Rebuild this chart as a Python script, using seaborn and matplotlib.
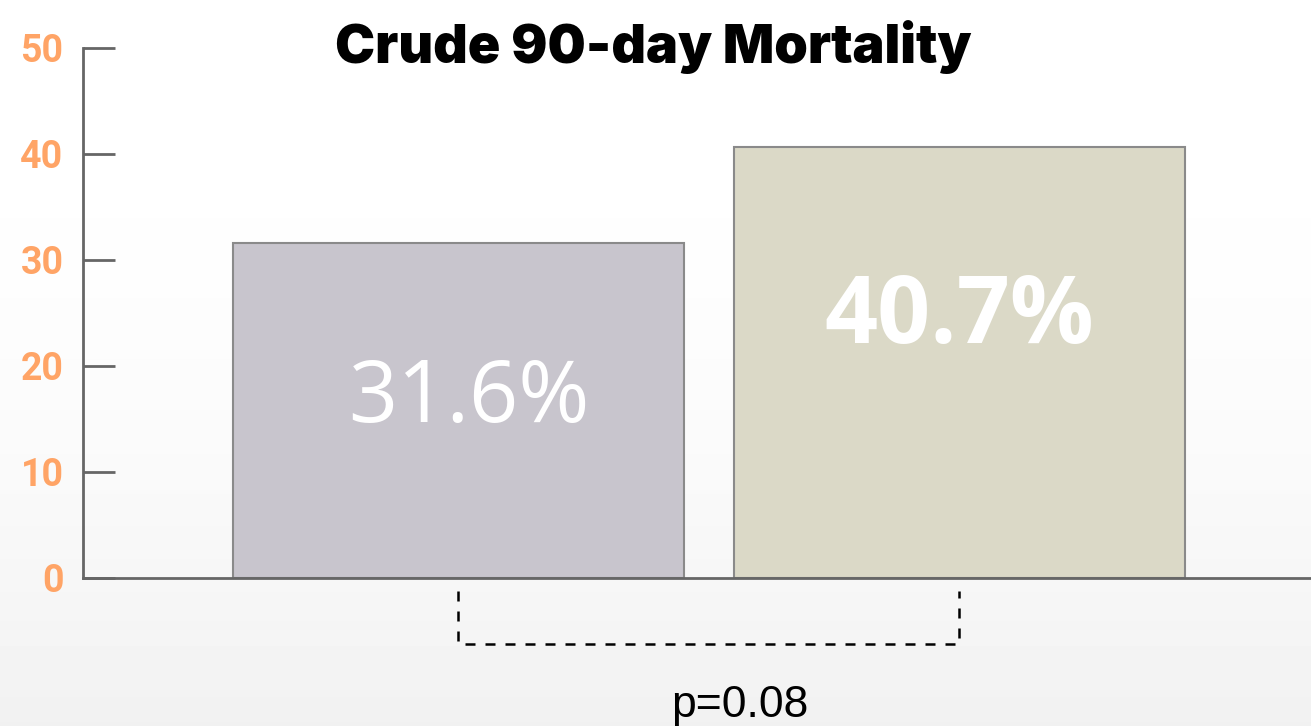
import numpy as np
import pandas as pd
import matplotlib
matplotlib.use('Agg')
import matplotlib.pyplot as plt
import seaborn as sns

# values
groups = ['Group A', 'Group B']
mortality = [31.6, 40.7]
bar_labels = ['31.6%', '40.7%']
bar_colors = ['#C8C3CF', '#DEDCC4']
y_ticks = [0, 10, 20, 30, 40, 50]
p_text = 'p=0.08'

df = pd.DataFrame({'group': groups, 'mortality': mortality})

sns.set_style('white')
plt.rcParams['font.family'] = ['Open Sans', 'DejaVu Sans']

fig = plt.figure(figsize=(13.11, 7.26), dpi=100)
fig.patch.set_facecolor('#FFFFFF')

# soft grey gradient towards the bottom of the slide
bg = fig.add_axes([0, 0, 1, 1], zorder=-1)
t = np.linspace(0, 1, 200)
grad = (1.0 - 0.055 * t ** 2.2).reshape(-1, 1)
bg.imshow(np.repeat(grad, 2, axis=1), cmap='gray', vmin=0, vmax=1, aspect='auto',
          extent=[0, 1, 0, 1], origin='upper')
bg.axis('off')

ax = fig.add_axes([0.0633, 0.2039, 0.9367, 0.73])
ax.set_facecolor('none')

sns.barplot(data=df, x='group', y='mortality', hue='group', palette=bar_colors,
            width=0.9, legend=False, edgecolor='#8A8A8A', linewidth=1.5, ax=ax)

ax.set_xlim(-0.7495, 1.7016)
ax.set_ylim(0, 50)
ax.set_yticks(y_ticks)
ax.set_yticklabels([str(t) for t in y_ticks], color='#FFA466', fontsize=27,
                   fontweight='bold', family=['Roboto', 'DejaVu Sans'])
ax.set_xticks([])
ax.set_xlabel('')
ax.set_ylabel('')

# inward ticks on the left spine
ax.tick_params(axis='y', left=True, direction='in', length=23, width=2,
               color='#666666', pad=14)
for side in ['top', 'right']:
    ax.spines[side].set_visible(False)
ax.spines['left'].set_color('#666666')
ax.spines['left'].set_linewidth(2)
ax.spines['bottom'].set_color('#666666')
ax.spines['bottom'].set_linewidth(2)

# labels inside bars
ax.text(0.02, 16.8, bar_labels[0], color='white', fontsize=62, ha='center', va='center')
ax.text(1, 24.5, bar_labels[1], color='white', fontsize=67, fontweight='bold',
        ha='center', va='center')

# dashed bracket below the bars
ax.plot([0, 0, 1, 1], [-1.2, -6.2, -6.2, -1.2], color='black', linestyle=(0, (4, 4)),
        linewidth=1.8, clip_on=False)
ax.text(0.562, -12.0, p_text, fontsize=32, ha='center', va='center', color='black',
        family=['Liberation Sans', 'DejaVu Sans'])

fig.text(0.498, 0.935, 'Crude 90-day Mortality', fontsize=38.7, fontweight=900,
         color='black', ha='center', va='center', family=['Inter', 'Lato', 'DejaVu Sans'])

fig.savefig('out.png', dpi=100)
